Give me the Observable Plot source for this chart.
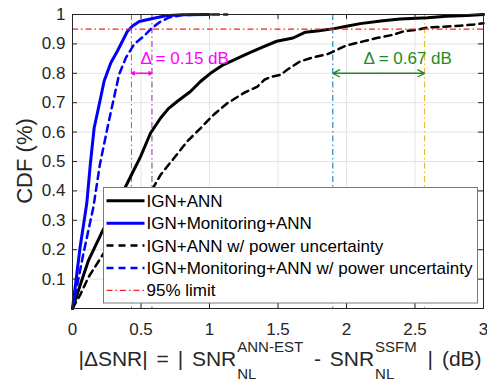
<!DOCTYPE html>
<html><head><meta charset="utf-8">
<script src="https://cdn.jsdelivr.net/npm/d3@7"></script>
<script src="https://cdn.jsdelivr.net/npm/@observablehq/plot@0.6"></script>
<style>body{margin:0;background:#fff} svg{display:block}</style>
</head><body><div id="chart"></div>
<script>
// ---- data ----
const xTicks = [0, 0.5, 1, 1.5, 2, 2.5, 3];
const yTicks = [0.1, 0.2, 0.3, 0.4, 0.5, 0.6, 0.7, 0.8, 0.9, 1];

const ignAnnX = [0, 0.06, 0.117, 0.21, 0.30, 0.387, 0.436, 0.496, 0.569, 0.642, 0.70, 0.764, 0.861, 0.934, 1.007, 1.10, 1.18, 1.27, 1.37, 1.49, 1.61, 1.70, 1.80, 1.91, 2.00, 2.10, 2.25, 2.39, 2.59, 2.73, 2.88, 3.0];
const ignAnnY = [0, 0.085, 0.164, 0.255, 0.335, 0.414, 0.46, 0.516, 0.596, 0.647, 0.68, 0.704, 0.738, 0.772, 0.80, 0.829, 0.846, 0.865, 0.886, 0.909, 0.92, 0.94, 0.945, 0.952, 0.96, 0.969, 0.978, 0.985, 0.989, 0.994, 0.997, 1.0];

const ignMonAnnX = [0, 0.056, 0.104, 0.13, 0.158, 0.195, 0.231, 0.28, 0.328, 0.365, 0.40, 0.438, 0.487, 0.56, 0.68, 0.80, 1.0];
const ignMonAnnY = [0, 0.21, 0.357, 0.49, 0.614, 0.694, 0.774, 0.836, 0.876, 0.91, 0.942, 0.961, 0.976, 0.984, 0.996, 0.999, 1.0];

const ignAnnPuX = [0, 0.06, 0.117, 0.21, 0.30, 0.40, 0.50, 0.593, 0.642, 0.74, 0.837, 0.934, 1.03, 1.13, 1.25, 1.35, 1.40, 1.445, 1.52, 1.567, 1.66, 1.76, 1.86, 1.91, 2.0, 2.10, 2.22, 2.34, 2.42, 2.52, 2.59, 2.7, 2.83, 2.93, 3.0];
const ignAnnPuY = [0, 0.05, 0.107, 0.175, 0.24, 0.30, 0.36, 0.414, 0.454, 0.511, 0.568, 0.613, 0.659, 0.698, 0.733, 0.755, 0.778, 0.787, 0.795, 0.812, 0.84, 0.855, 0.865, 0.875, 0.895, 0.906, 0.92, 0.931, 0.943, 0.948, 0.956, 0.958, 0.962, 0.966, 0.97];

const ignMonAnnPuX = [0, 0.08, 0.153, 0.2, 0.255, 0.292, 0.34, 0.39, 0.45, 0.523, 0.571, 0.633, 0.706, 0.80, 0.95, 1.13];
const ignMonAnnPuY = [0, 0.187, 0.346, 0.49, 0.614, 0.694, 0.796, 0.853, 0.899, 0.927, 0.95, 0.973, 0.99, 0.998, 1.0, 1.0];

const limit95 = 0.95;
const markerLinesX = [0.43, 0.58, 1.90, 2.57];
const deltaFrom = [0.43, 1.90];
const deltaTo = [0.58, 2.57];
const deltaArrowY = [0.80, 0.80];
const deltaTextX = [0.496, 2.124];
const deltaTextY = [0.85, 0.85];
const deltaLabels = ["Δ = 0.15 dB", "Δ = 0.67 dB"];

const legendLabels = ["IGN+ANN", "IGN+Monitoring+ANN", "IGN+ANN w/ power uncertainty", "IGN+Monitoring+ANN w/ power uncertainty", "95% limit"];

// ---- styles ----
const FONT = "'Liberation Sans', Arial, Helvetica, sans-serif";
const markerColors = ["#D95319", "#7E2F8E", "#0072BD", "#EDB120"];
const deltaColors = ["#FF00FF", "#1E8C1E"];
const dashDot = "6,3,1.5,3";
const seriesStyles = [
  {stroke: "#000", strokeWidth: 3},
  {stroke: "#0000FF", strokeWidth: 3},
  {stroke: "#000", strokeWidth: 2.5, strokeDasharray: "7,5"},
  {stroke: "#0000FF", strokeWidth: 2.5, strokeDasharray: "7,5"},
  {stroke: "#FF2020", strokeWidth: 1.2, strokeDasharray: dashDot}
];

const toRows = (xs, ys) => xs.map((x, i) => ({x, y: ys[i]}));
const series = [
  toRows(ignAnnX, ignAnnY),
  toRows(ignMonAnnX, ignMonAnnY),
  toRows(ignAnnPuX, ignAnnPuY),
  toRows(ignMonAnnPuX, ignMonAnnPuY)
];

const W = 487, H = 382, mL = 72, mR = 4, mT = 14, mB = 74;
const pw = W - mL - mR, ph = H - mT - mB;

const arrowRows = [];
deltaFrom.forEach((a, i) => {
  const mid = (a + deltaTo[i]) / 2;
  arrowRows.push({x1: mid, x2: a, y: deltaArrowY[i], c: deltaColors[i]});
  arrowRows.push({x1: mid, x2: deltaTo[i], y: deltaArrowY[i], c: deltaColors[i]});
});

const plot = Plot.plot({
  width: W, height: H,
  marginLeft: mL, marginRight: mR, marginTop: mT, marginBottom: mB,
  x: {domain: [0, 3], label: null},
  y: {domain: [0, 1], label: null},
  style: {fontFamily: FONT, fontSize: "17px", color: "#262626", background: "#fff", overflow: "visible"},
  marks: [
    Plot.gridX(xTicks.slice(1, -1), {stroke: "#e4e4e4", strokeOpacity: 1}),
    Plot.gridY(yTicks.slice(0, -1), {stroke: "#e4e4e4", strokeOpacity: 1}),
    ...markerLinesX.map((v, i) => Plot.ruleX([v], {stroke: markerColors[i], strokeWidth: 1, strokeDasharray: dashDot})),
    ...series.map((s, i) => Plot.line(s, {x: "x", y: "y", ...seriesStyles[i]})),
    Plot.ruleY([limit95], seriesStyles[4]),
    ...arrowRows.map(r => Plot.arrow([r], {x1: "x1", x2: "x2", y1: "y", y2: "y", stroke: r.c, strokeWidth: 1.4, headLength: 8, headAngle: 55})),
    ...deltaLabels.map((t, i) => Plot.text([t], {x: deltaTextX[i], y: deltaTextY[i], text: d => d, textAnchor: "start", fill: deltaColors[i], fontSize: 17})),
    Plot.ruleX(xTicks, {insetTop: ph - 5, stroke: "#262626"}),
    Plot.ruleX(xTicks, {insetBottom: ph - 5, stroke: "#262626"}),
    Plot.ruleY(yTicks, {insetRight: pw - 5, stroke: "#262626"}),
    Plot.ruleY(yTicks, {insetLeft: pw - 5, stroke: "#262626"}),
    Plot.frame({stroke: "#262626"}),
    Plot.axisX(xTicks, {tickSize: 0, tickPadding: 14, label: null, fill: "#262626", tickFormat: d => String(d)}),
    Plot.axisY(yTicks, {tickSize: 0, tickPadding: 7, label: null, fill: "#262626", tickFormat: d => String(d)})
  ]
});
document.getElementById("chart").appendChild(plot);

const svg = d3.select(plot);

// ---- legend ----
const lg = svg.append("g").attr("text-anchor", "start");
lg.append("rect").attr("x", 103.5).attr("y", 187.5).attr("width", 374).attr("height", 115.5)
  .attr("fill", "#fff").attr("stroke", "#7a7a7a").attr("stroke-width", 1);
legendLabels.forEach((t, i) => {
  const yy = 200.8 + i * 22.4;
  const st = seriesStyles[i];
  lg.append("line").attr("x1", 106.5).attr("x2", 144.5).attr("y1", yy).attr("y2", yy)
    .attr("stroke", st.stroke).attr("stroke-width", st.strokeWidth)
    .attr("stroke-dasharray", st.strokeDasharray || null);
  lg.append("text").attr("x", 146.5).attr("y", yy).attr("dy", "0.35em").attr("text-anchor", "start")
    .attr("font-family", FONT).attr("font-size", 17).attr("fill", "#000").text(t);
});

// ---- y label ----
svg.append("text").attr("transform", "translate(24,161) rotate(-90)")
  .attr("text-anchor", "middle").attr("dy", "0.35em")
  .attr("font-family", FONT).attr("font-size", 22).attr("fill", "#262626").text("CDF (%)");

// ---- x label with sub/superscripts ----
const xg = svg.append("g").attr("font-family", FONT).attr("fill", "#262626")
  .attr("text-anchor", "start").style("white-space", "pre").style("word-spacing", "3px");
const BASE = 366, SUP = 352, SUB = 379, MAIN = 21, SMALL = 15;
const pieces = [
  {t: "|ΔSNR| = | SNR"},
  {sup: "ANN-EST", sub: "NL"},
  {t: " - SNR"},
  {sup: "SSFM", sub: "NL"},
  {t: " | (dB)"}
];
let cx = 0;
pieces.forEach(p => {
  if (p.t) {
    const el = xg.append("text").attr("x", cx).attr("y", BASE).attr("font-size", MAIN)
      .attr("text-anchor", "start").text(p.t);
    cx += el.node().getComputedTextLength();
  } else {
    const a = xg.append("text").attr("x", cx + 1).attr("y", SUP).attr("font-size", SMALL)
      .attr("text-anchor", "start").text(p.sup);
    const b = xg.append("text").attr("x", cx + 1).attr("y", SUB).attr("font-size", SMALL)
      .attr("text-anchor", "start").text(p.sub);
    cx += Math.max(a.node().getComputedTextLength(), b.node().getComputedTextLength()) + 3;
  }
});
xg.attr("transform", `translate(${280 - cx / 2},0)`);
</script>
</body></html>
